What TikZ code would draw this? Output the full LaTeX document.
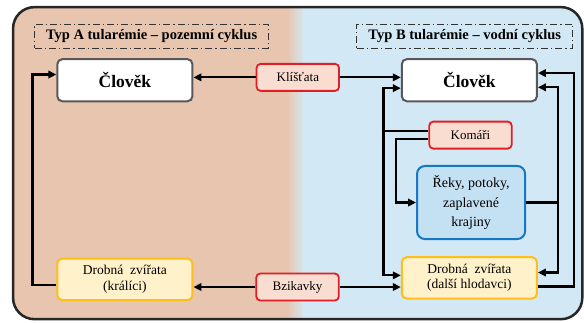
\documentclass[tikz,border=0pt]{standalone}
\usepackage{fontspec}
\setmainfont{Liberation Serif}
\usetikzlibrary{arrows.meta,positioning}

\definecolor{landbg}{RGB}{232,197,174}
\definecolor{waterbg}{RGB}{210,232,245}
\definecolor{vecred}{RGB}{226,30,36}
\definecolor{vecfill}{RGB}{250,221,209}
\definecolor{hostline}{RGB}{255,190,25}
\definecolor{hostfill}{RGB}{255,241,202}
\definecolor{riverline}{RGB}{22,120,194}
\definecolor{riverfill}{RGB}{196,224,243}
\definecolor{manline}{RGB}{88,88,90}

\tikzset{
  man/.style={draw=manline, fill=white, line width=2pt, rounded corners=5pt,
    minimum width=4.75cm, minimum height=1.48cm, font=\fontsize{17.5}{20}\selectfont\bfseries},
  vector/.style={draw=vecred, fill=vecfill, line width=1.8pt, rounded corners=4pt,
    minimum width=2.9cm, minimum height=0.95cm, font=\fontsize{13}{15}\selectfont},
  host/.style={draw=hostline, fill=hostfill, line width=2pt, rounded corners=5pt,
    minimum width=4.75cm, minimum height=1.46cm, align=center, font=\fontsize{13.5}{15.5}\selectfont},
  river/.style={draw=riverline, fill=riverfill, line width=2pt, rounded corners=8pt,
    minimum width=3.8cm, minimum height=2.57cm, align=center, font=\fontsize{14}{19.5}\selectfont},
  cycletitle/.style={draw=black!80, line width=1pt,
    dash pattern=on 7pt off 3pt on 1.2pt off 3pt,
    minimum height=0.84cm, font=\fontsize{14.5}{16}\selectfont\bfseries},
  flow/.style={line width=2.2pt, -{Triangle[length=8pt,width=7.5pt]}},
  wire/.style={line width=2.2pt},
}

\begin{document}
\begin{tikzpicture}
  \useasboundingbox (0,0) rectangle (20.53,11.32);

  % two halves of the background
  \begin{scope}
    \clip[rounded corners=0.75cm] (0.46,0.1) rectangle (20.47,11.07);
    \fill[landbg] (0,0) rectangle (10.15,11.32);
    \shade[left color=landbg, right color=waterbg] (10.1,0) rectangle (10.7,11.32);
    \fill[waterbg] (10.65,0) rectangle (20.53,11.32);
  \end{scope}
  \draw[line width=2.5pt, rounded corners=0.75cm, black!85] (0.46,0.1) rectangle (20.47,11.07);

  \node[cycletitle, minimum width=8.2cm] (titlea) at (5.33,10.05) {Typ A tularémie – pozemní cyklus};
  \node[cycletitle, minimum width=7.6cm] (titleb) at (16.34,10.05) {Typ B tularémie – vodní cyklus};

  \node[man] (cloveka) at (4.39,8.5) {Člověk};
  \node[man] (clovekb) at (16.5,8.5) {Člověk};
  \node[vector] (klistata) at (10.47,8.6) {Klíšťata};
  \node[vector] (komari) at (16.54,6.57) {Komáři};
  \node[river] (reky) at (16.56,4.2) {Řeky, potoky,\\zaplavené\\krajiny};
  \node[host] (drobnaa) at (4.39,1.5) {Drobná\ \ zvířata\\(králíci)};
  \node[host] (drobnab) at (16.5,1.55) {Drobná\ \ zvířata\\(další hlodavci)};
  \node[vector] (bzikavky) at (10.46,1.23) {Bzikavky};

  % land cycle
  \draw[flow] (klistata) -- (klistata -| cloveka.east);
  \draw[flow] (bzikavky) -- (bzikavky -| drobnaa.east);
  \draw[flow] ([yshift=-0.2cm]drobnaa.west) -- ++(-0.84,0) |- ([yshift=0.2cm]cloveka.west);

  % water cycle
  \draw[flow] (klistata) -- (klistata -| clovekb.west);
  \draw[flow] (bzikavky) -- (bzikavky -| drobnab.west);
  \draw[flow] ([yshift=0.14cm]komari.west) -- ++(-1.58,0) coordinate (kjoin)
    |- ([yshift=-0.28cm]clovekb.west);
  \draw[flow] (kjoin) |- ([yshift=0.09cm]drobnab.west);
  \draw[flow] ([yshift=-0.14cm]komari.west) -- ++(-1.13,0) |- (reky.west);
  \draw[wire] (reky.east) -- ++(1.13,0) coordinate (rjoin);
  \draw[flow] (rjoin) |- ([yshift=-0.25cm]clovekb.east);
  \draw[flow] (rjoin) |- ([yshift=0.19cm]drobnab.east);
  \draw[flow] ([yshift=-0.3cm]drobnab.east) -- ++(1.26,0) |- ([yshift=0.25cm]clovekb.east);
\end{tikzpicture}
\end{document}
